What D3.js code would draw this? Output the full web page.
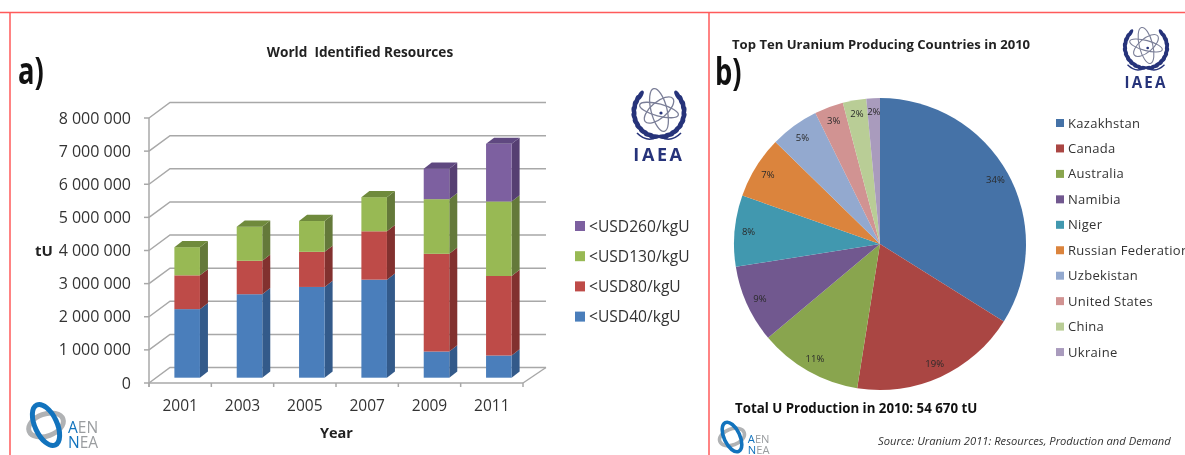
<!DOCTYPE html>
<html>
<head>
<meta charset="utf-8">
<style>
html, body { margin: 0; padding: 0; background: #fff; overflow: hidden; }
text { font-family: "Open Sans", sans-serif; }
svg { filter: blur(0.35px); }
</style>
<script src="https://cdnjs.cloudflare.com/ajax/libs/d3/7.8.5/d3.min.js"></script>
</head>
<body>
<div id="chart"></div>
<script>
// a) world identified resources, million tU per cost band
var years = ["2001", "2003", "2005", "2007", "2009", "2011"];
var usd40 = [2.07, 2.52, 2.74, 2.96, 0.79, 0.67];
var usd80 = [1.02, 1.01, 1.06, 1.46, 2.95, 2.40];
var usd130 = [0.85, 1.03, 0.93, 1.03, 1.65, 2.25];
var usd260 = [0, 0, 0, 0, 0.92, 1.74];
var bandNames = ["<USD40/kgU", "<USD80/kgU", "<USD130/kgU", "<USD260/kgU"];
var yTicks = [0, 1, 2, 3, 4, 5, 6, 7, 8];
var yTickLabels = ["0", "1 000 000", "2 000 000", "3 000 000", "4 000 000", "5 000 000", "6 000 000", "7 000 000", "8 000 000"];

// b) top ten producers 2010
var countries = ["Kazakhstan", "Canada", "Australia", "Namibia", "Niger", "Russian Federation", "Uzbekistan", "United States", "China", "Ukraine"];
var shares = [33.9, 18.6, 11.4, 8.6, 7.9, 6.9, 5.4, 3.2, 2.6, 1.5];
var shareLabels = ["34%", "19%", "11%", "9%", "8%", "7%", "5%", "3%", "2%", "2%"];

var bandFront = ["#4a7ebb", "#be4b48", "#98b954", "#7d60a0"];
var bandSide = ["#335a8a", "#82312f", "#64793a", "#563f72"];
var bandTop = ["#3f6ca3", "#a03f3c", "#6f8a3c", "#5f4880"];
var pieColors = ["#4572a7", "#aa4643", "#89a54e", "#71588f", "#4198af", "#db843d", "#93a9cf", "#d19392", "#b9cd96", "#a99bbd"];

var svg = d3.select("#chart").append("svg")
	.attr("width", 1185)
	.attr("height", 455)
	.style("display", "block");

drawFrame();
drawBars();
drawPie();
drawIaea(659, 113, 1);
drawIaea(1146, 48, 0.84);
drawNea(46, 425, 1);
drawNea(732, 437, 0.72);

function drawFrame() {
	var frame = svg.append("g").attr("stroke", "#ff5a5a").attr("stroke-width", 1.5);
	frame.append("line").attr("x1", 0).attr("x2", 1185).attr("y1", 12.5).attr("y2", 12.5);
	frame.append("line").attr("x1", 10).attr("x2", 10).attr("y1", 12.5).attr("y2", 455);
	frame.append("line").attr("x1", 709).attr("x2", 709).attr("y1", 12.5).attr("y2", 455);

	// the panel letters are narrow in the original
	addText(0, 0, "a)", 38, "bold", "#111").attr("transform", "translate(18,84) scale(0.72,1)");
	addText(0, 0, "b)", 38, "bold", "#111").attr("transform", "translate(715,85) scale(0.72,1)");
}

function addText(x, y, str, size, weight, color) {
	return svg.append("text")
		.attr("x", x)
		.attr("y", y)
		.attr("font-size", size)
		.attr("font-weight", weight)
		.attr("fill", color)
		.text(str);
}

function drawBars() {
	var left = 149, right = 523, baseY = 383;
	// depth of the floor and of each column, in screen pixels
	var wallDx = 21, wallDy = -15.5;
	var barDx = 8, barDy = -6.2;
	var barShiftX = 7, barShiftY = -5.3;

	var x = d3.scaleBand().domain(years).range([left, right]).paddingInner(0.59).paddingOuter(0.295);
	var tickX = d3.scalePoint().domain(d3.range(years.length + 1)).range([left, right]);
	var y = d3.scaleLinear().domain([0, 8]).range([baseY, baseY - 265]);

	var g = svg.append("g");
	var gridColor = "#a8a8a8";

	// back wall + left wall
	var grid = g.append("g").attr("stroke", gridColor).attr("stroke-width", 1.5).attr("fill", "none");
	grid.selectAll("path")
		.data(yTicks)
		.enter()
		.append("path")
		.attr("d", function (d) {
			return "M" + left + "," + y(d) + "L" + (left + wallDx) + "," + (y(d) + wallDy) + "L546," + (y(d) + wallDy);
		});
	grid.append("path").attr("d", "M" + right + "," + baseY + "L546," + (baseY + wallDy));

	// columns
	var rows = years.map(function (yr, i) {
		return { year: yr, 0: usd40[i], 1: usd80[i], 2: usd130[i], 3: usd260[i] };
	});
	var stack = d3.stack().keys([0, 1, 2, 3])(rows);
	var columns = g.append("g").attr("transform", "translate(" + barShiftX + "," + barShiftY + ")");

	stack.forEach(function (layer, k) {
		var seg = columns.append("g");
		var items = layer.filter(function (d) { return d[1] > d[0]; });
		seg.selectAll("path.side")
			.data(items)
			.enter()
			.append("path")
			.attr("class", "side")
			.attr("fill", bandSide[k])
			.attr("d", function (d) {
				var xr = x(d.data.year) + x.bandwidth();
				return "M" + xr + "," + y(d[0]) + "l" + barDx + "," + barDy + "L" + (xr + barDx) + "," + (y(d[1]) + barDy) + "L" + xr + "," + y(d[1]) + "Z";
			});
		seg.selectAll("rect")
			.data(items)
			.enter()
			.append("rect")
			.attr("x", function (d) { return x(d.data.year); })
			.attr("y", function (d) { return y(d[1]); })
			.attr("width", x.bandwidth())
			.attr("height", function (d) { return y(d[0]) - y(d[1]); })
			.attr("fill", bandFront[k]);
	});

	// caps, only on the top segment of each column
	rows.forEach(function (row) {
		var k = row[3] > 0 ? 3 : 2;
		var total = row[0] + row[1] + row[2] + row[3];
		var xl = x(row.year);
		columns.append("path")
			.attr("fill", bandTop[k])
			.attr("d", "M" + xl + "," + y(total) + "l" + barDx + "," + barDy + "h" + x.bandwidth() + "l" + (-barDx) + "," + (-barDy) + "Z");
	});

	// front axes
	var axes = g.append("g").attr("stroke", gridColor).attr("stroke-width", 1.5);
	axes.append("line").attr("x1", left).attr("x2", left).attr("y1", y(8)).attr("y2", baseY + 4);
	axes.append("line").attr("x1", left).attr("x2", right).attr("y1", baseY).attr("y2", baseY);
	axes.selectAll("line.ytick")
		.data(yTicks)
		.enter()
		.append("line")
		.attr("class", "ytick")
		.attr("x1", left - 5)
		.attr("x2", left)
		.attr("y1", function (d) { return y(d); })
		.attr("y2", function (d) { return y(d); });
	axes.selectAll("line.xtick")
		.data(tickX.domain())
		.enter()
		.append("line")
		.attr("class", "xtick")
		.attr("x1", function (d) { return tickX(d); })
		.attr("x2", function (d) { return tickX(d); })
		.attr("y1", baseY)
		.attr("y2", baseY + 4);

	// labels
	g.append("g").selectAll("text")
		.data(yTicks)
		.enter()
		.append("text")
		.attr("x", 131)
		.attr("y", function (d) { return y(d) + 5.5; })
		.attr("text-anchor", "end")
		.attr("font-size", 16)
		.attr("fill", "#333")
		.text(function (d, i) { return yTickLabels[i]; });
	g.append("g").selectAll("text")
		.data(years)
		.enter()
		.append("text")
		.attr("x", function (d, i) { return (tickX(i) + tickX(i + 1)) / 2; })
		.attr("y", 411)
		.attr("text-anchor", "middle")
		.attr("font-size", 15.5)
		.attr("fill", "#333")
		.text(function (d) { return d; });

	addText(35, 256, "tU", 15, "bold", "#222");
	addText(320, 438, "Year", 14.5, "bold", "#222");
	addText(360, 57, "World  Identified Resources", 13.6, "bold", "#222")
		.attr("text-anchor", "middle")
		.style("white-space", "pre");

	// legend, top band first
	var legend = g.append("g").selectAll("g")
		.data(d3.range(4).reverse())
		.enter()
		.append("g")
		.attr("transform", function (d, i) { return "translate(575," + (226 + i * 30.2) + ")"; });
	legend.append("rect")
		.attr("x", 0)
		.attr("y", -5)
		.attr("width", 10)
		.attr("height", 10)
		.attr("fill", function (d) { return bandFront[d]; });
	legend.append("text")
		.attr("x", 14)
		.attr("y", 5.5)
		.attr("font-size", 15.6)
		.attr("fill", "#333")
		.text(function (d) { return bandNames[d]; });
}

function drawPie() {
	var cx = 880, cy = 244, radius = 146;
	var pie = d3.pie().sort(null).value(function (d) { return d; });
	var arcs = pie(shares);
	var arc = d3.arc().innerRadius(0).outerRadius(radius);
	var labelArc = d3.arc().innerRadius(132).outerRadius(132);

	var g = svg.append("g").attr("transform", "translate(" + cx + "," + cy + ")");
	g.selectAll("path")
		.data(arcs)
		.enter()
		.append("path")
		.attr("d", arc)
		.attr("fill", function (d, i) { return pieColors[i]; });
	g.selectAll("text")
		.data(arcs)
		.enter()
		.append("text")
		.attr("transform", function (d) { return "translate(" + labelArc.centroid(d) + ")"; })
		.attr("text-anchor", "middle")
		.attr("dy", "0.35em")
		.attr("font-size", 9.5)
		.attr("fill", "#2a2a2a")
		.text(function (d, i) { return shareLabels[i]; });

	var legend = svg.append("g").selectAll("g")
		.data(countries)
		.enter()
		.append("g")
		.attr("transform", function (d, i) { return "translate(1056," + (123 + i * 25.45) + ")"; });
	legend.append("rect")
		.attr("x", 0)
		.attr("y", -4)
		.attr("width", 8)
		.attr("height", 8)
		.attr("fill", function (d, i) { return pieColors[i]; });
	legend.append("text")
		.attr("x", 12)
		.attr("y", 4.5)
		.attr("font-size", 13)
		.attr("letter-spacing", 0.3)
		.attr("fill", "#333")
		.text(function (d) { return d; });

	addText(732, 49, "Top Ten Uranium Producing Countries in 2010", 13.1, "bold", "#222");
	addText(735, 413, "Total U Production in 2010: 54 670 tU", 13.3, "bold", "#111");
	addText(878, 445, "Source: Uranium 2011: Resources, Production and Demand", 11.2, "normal", "#333")
		.attr("font-style", "italic");
}

function drawIaea(cx, cy, k) {
	var navy = "#26337a";
	var atomGray = "#7b7f98";
	var g = svg.append("g").attr("transform", "translate(" + cx + "," + cy + ") scale(" + k + ")");

	// wreath leaves on both sides
	[-1, 1].forEach(function (side) {
		d3.range(10).forEach(function (i) {
			var a = (-42 + i * 13.5) * Math.PI / 180;
			var r = 25;
			g.append("ellipse")
				.attr("rx", 2.3)
				.attr("ry", 5.2)
				.attr("fill", navy)
				.attr("transform", "translate(" + (side * r * Math.cos(a)) + "," + (r * Math.sin(a) - 1) + ") rotate(" + (side * (a * 180 / Math.PI + 12)) + ")");
		});
		g.append("path")
			.attr("d", "M" + (side * 2) + ",24 Q" + (side * 12) + ",30 " + (side * 22) + ",20")
			.attr("fill", "none")
			.attr("stroke", navy)
			.attr("stroke-width", 1.6);
	});

	// atom: three orbits around a small nucleus
	var orbits = [[8, 22, -14], [8, 18, 50], [20, 6, 15]];
	orbits.forEach(function (e) {
		g.append("ellipse")
			.attr("rx", e[0])
			.attr("ry", e[1])
			.attr("fill", "none")
			.attr("stroke", atomGray)
			.attr("stroke-width", 1.3)
			.attr("transform", "translate(0,-3) rotate(" + e[2] + ")");
	});
	g.append("circle").attr("cx", 2).attr("cy", 0).attr("r", 1.6).attr("fill", navy);

	g.append("text")
		.attr("y", 47.5)
		.attr("text-anchor", "middle")
		.attr("font-size", 18)
		.attr("font-weight", "bold")
		.attr("letter-spacing", 2.6)
		.attr("fill", navy)
		.text("IAEA");
}

function drawNea(cx, cy, k) {
	var g = svg.append("g").attr("transform", "translate(" + cx + "," + cy + ") scale(" + k + ")");
	g.append("ellipse")
		.attr("rx", 18)
		.attr("ry", 11)
		.attr("fill", "none")
		.attr("stroke", "#b0b2b4")
		.attr("stroke-width", 5)
		.attr("transform", "rotate(-20)");
	g.append("ellipse")
		.attr("rx", 11)
		.attr("ry", 22)
		.attr("fill", "none")
		.attr("stroke", "#1273bd")
		.attr("stroke-width", 5)
		.attr("transform", "rotate(-25)");

	[["A", "EN", 8], ["N", "EA", 23]].forEach(function (row) {
		var t = g.append("text")
			.attr("x", 22)
			.attr("y", row[2])
			.attr("font-size", 15.5)
			.attr("fill", "#9a9da0");
		t.append("tspan").attr("fill", "#1273bd").text(row[0]);
		t.append("tspan").text(row[1]);
	});
}
</script>
</body>
</html>
